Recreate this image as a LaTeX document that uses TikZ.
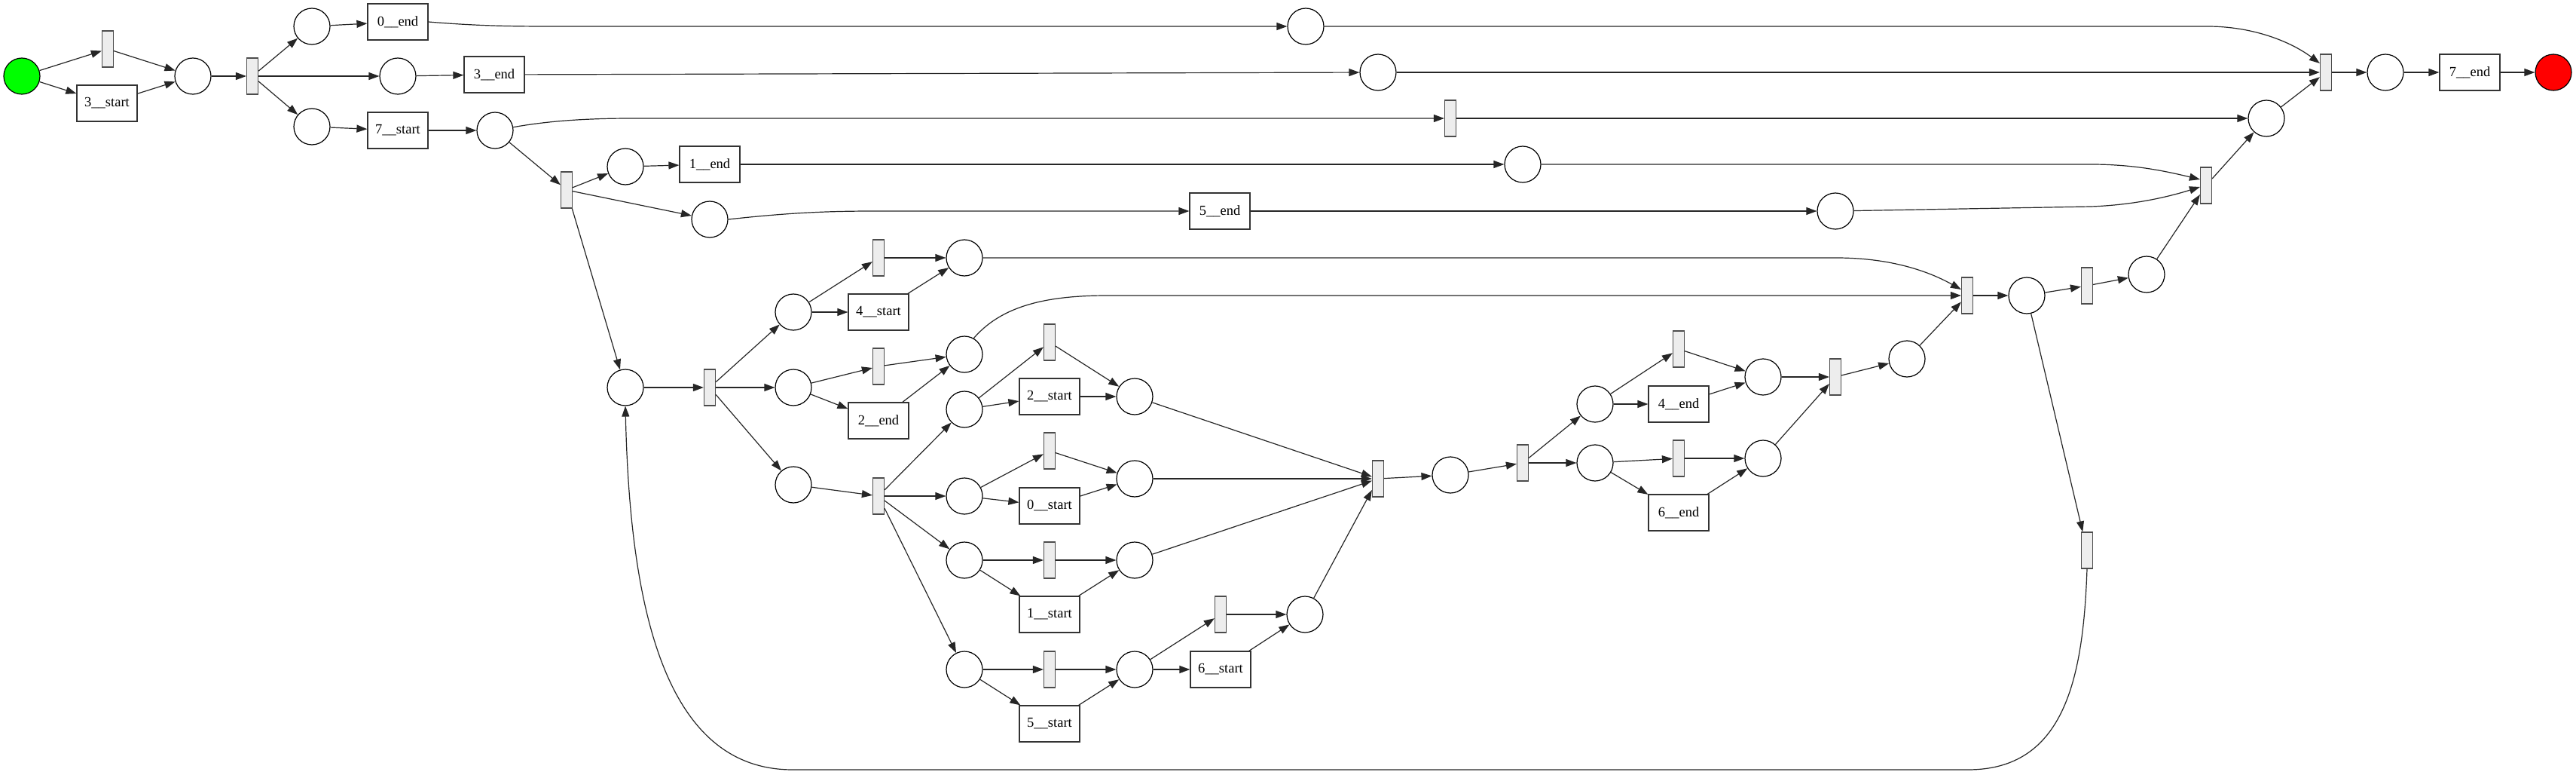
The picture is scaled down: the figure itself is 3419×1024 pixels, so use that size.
\documentclass[tikz,border=0pt]{standalone}
\usepackage{fontspec}
\setmainfont{Liberation Serif}
\usetikzlibrary{arrows.meta,calc}
\definecolor{pgreen}{RGB}{0,255,0}
\definecolor{pred}{RGB}{255,0,0}
\begin{document}
\begin{tikzpicture}[x=1pt,y=-1pt,
 place/.style={circle,draw=black,line width=1.2pt,minimum size=48pt,inner sep=0pt,fill=white},
 silent/.style={rectangle,draw=black!70,fill=black!7,line width=1.2pt,minimum width=15pt,minimum height=48pt,inner sep=0pt},
 task/.style={rectangle,draw=black!80,fill=white,line width=1.2pt,minimum width=80pt,minimum height=48pt,inner sep=0pt,font=\fontsize{18.5}{20}\selectfont},
 arc/.style={draw=black!85,line width=1.2pt,-{Triangle[length=14pt,width=10pt]}},
]
\useasboundingbox (0,0) rectangle (3419,1024);
% places
\node[place,fill=pgreen] (start) at (29,101) {};
\node[place] (p1) at (256,101) {};
\node[place] (p0) at (414,35) {};
\node[place] (p3) at (528,101) {};
\node[place] (p7) at (414,168) {};
\node[place] (p7b) at (657,173) {};
\node[place] (p1a) at (830,221) {};
\node[place] (p5a) at (942,291) {};
\node[place] (pL) at (830,514) {};
\node[place] (a4) at (1053,414) {};
\node[place] (a4b) at (1280,342) {};
\node[place] (a2) at (1053,514) {};
\node[place] (a2b) at (1280,470) {};
\node[place] (a0) at (1053,643) {};
\node[place] (b2) at (1280,543) {};
\node[place] (b2b) at (1506,526) {};
\node[place] (b0) at (1280,658) {};
\node[place] (b0b) at (1506,635) {};
\node[place] (b1) at (1280,743) {};
\node[place] (b1b) at (1506,743) {};
\node[place] (b5) at (1280,888) {};
\node[place] (b5b) at (1506,888) {};
\node[place] (b6b) at (1732,815) {};
\node[place] (c1) at (1925,630) {};
\node[place] (d4) at (2117,536) {};
\node[place] (d4b) at (2340,500) {};
\node[place] (d6) at (2117,614) {};
\node[place] (d6b) at (2340,608) {};
\node[place] (e2) at (2531,476) {};
\node[place] (e4) at (2690,392) {};
\node[place] (e7) at (2849,364) {};
\node[place] (h0) at (1733,35) {};
\node[place] (h3) at (1829,96) {};
\node[place] (h1) at (2021,218) {};
\node[place] (p5e) at (2436,280) {};
\node[place] (g1) at (3008,157) {};
\node[place] (f2) at (3166,96) {};
\node[place,fill=pred] (endp) at (3389,96) {};
% silent transitions
\node[silent] (t1) at (143,65) {};
\node[silent] (t2) at (335,101) {};
\node[silent] (t3) at (752,252) {};
\node[silent] (h7) at (1925,157) {};
\node[silent] (tL) at (942,514) {};
\node[silent] (a4t) at (1166,342) {};
\node[silent] (a2t) at (1166,486) {};
\node[silent] (tB) at (1166,658) {};
\node[silent] (b2t) at (1393,454) {};
\node[silent] (b0t) at (1393,598) {};
\node[silent] (b1t) at (1393,743) {};
\node[silent] (b5t) at (1393,888) {};
\node[silent] (b6t) at (1620,815) {};
\node[silent] (tJ) at (1829,635) {};
\node[silent] (c1t) at (2021,614) {};
\node[silent] (d4t) at (2228,463) {};
\node[silent] (d6t) at (2228,608) {};
\node[silent] (e1) at (2436,500) {};
\node[silent] (e3) at (2611,392) {};
\node[silent] (e5) at (2770,379) {};
\node[silent] (e6) at (2770,730) {};
\node[silent] (g2) at (2928,246) {};
\node[silent] (f1) at (3087,96) {};
% labelled transitions
\node[task] (s3) at (142,137) {3\_\_start};
\node[task] (en0) at (528,29) {0\_\_end};
\node[task] (en3) at (656,99) {3\_\_end};
\node[task] (s7) at (528,173) {7\_\_start};
\node[task] (en1) at (942,218) {1\_\_end};
\node[task] (en5) at (1619,280) {5\_\_end};
\node[task] (s4) at (1166,414) {4\_\_start};
\node[task] (en2) at (1166,558) {2\_\_end};
\node[task] (s2) at (1393,526) {2\_\_start};
\node[task] (s0) at (1393,671) {0\_\_start};
\node[task] (s1) at (1393,815) {1\_\_start};
\node[task] (s5) at (1393,960) {5\_\_start};
\node[task] (s6) at (1620,888) {6\_\_start};
\node[task] (en4) at (2228,536) {4\_\_end};
\node[task] (en6) at (2228,680) {6\_\_end};
\node[task] (en7) at (3278,96) {7\_\_end};
% arcs: top part
\draw[arc] (start) -- (t1);
\draw[arc] (start) -- (s3);
\draw[arc] (t1) -- (p1);
\draw[arc] (s3) -- (p1);
\draw[arc] (p1) -- (t2);
\draw[arc] (t2) -- (p0);
\draw[arc] (t2) -- (p3);
\draw[arc] (t2) -- (p7);
\draw[arc] (p0) -- (en0);
\draw[arc] (p3) -- (en3);
\draw[arc] (p7) -- (s7);
\draw[arc] (s7) -- (p7b);
\draw[arc] (p7b.10) .. controls (730,160) and (780,157) .. (840,157) -- (h7);
\draw[arc] (p7b) -- (t3);
\draw[arc] (t3) -- (p1a);
\draw[arc] (t3) -- (p5a);
\draw[arc] (t3) -- (pL);
\draw[arc] (p1a) -- (en1);
\draw[arc] (p5a.east) .. controls (1040,283) and (1090,280) .. (1160,280) -- (en5);
\draw[arc] (en0.east) .. controls (640,35) and (690,35) .. (740,35) -- (h0);
\draw[arc] (en3) -- (h3);
\draw[arc] (en1) -- (h1);
\draw[arc] (en5) -- (p5e);
\draw[arc] (h0) -- (2930,35) .. controls (2990,35) and (3040,55) .. ($(f1.west)+(0,-12)$);
\draw[arc] (h3) -- (f1);
\draw[arc] (h7) -- (g1);
\draw[arc] (h1) -- (2775,218) .. controls (2830,218) and (2870,226) .. ($(g2.west)+(0,-8)$);
\draw[arc] (p5e) -- (2775,274) .. controls (2830,272) and (2875,262) .. ($(g2.west)+(0,2)$);
\draw[arc] (e7) -- (g2);
\draw[arc] (g2) -- (g1);
\draw[arc] (g1) -- (f1);
\draw[arc] (f1) -- (f2);
\draw[arc] (f2) -- (en7);
\draw[arc] (en7) -- (endp);
% arcs: loop body
\draw[arc] (pL) -- (tL);
\draw[arc] (tL) -- (a4);
\draw[arc] (tL) -- (a2);
\draw[arc] (tL) -- (a0);
\draw[arc] (a4) -- (a4t);
\draw[arc] (a4) -- (s4);
\draw[arc] (a4t) -- (a4b);
\draw[arc] (s4) -- (a4b);
\draw[arc] (a2) -- (a2t);
\draw[arc] (a2) -- (en2);
\draw[arc] (a2t) -- (a2b);
\draw[arc] (en2) -- (a2b);
\draw[arc] (a0) -- (tB);
\draw[arc] (tB) -- (b2);
\draw[arc] (tB) -- (b0);
\draw[arc] (tB) -- (b1);
\draw[arc] (tB) -- (b5);
\draw[arc] (b2) -- (b2t);
\draw[arc] (b2) -- (s2);
\draw[arc] (b2t) -- (b2b);
\draw[arc] (s2) -- (b2b);
\draw[arc] (b0) -- (b0t);
\draw[arc] (b0) -- (s0);
\draw[arc] (b0t) -- (b0b);
\draw[arc] (s0) -- (b0b);
\draw[arc] (b1) -- (b1t);
\draw[arc] (b1) -- (s1);
\draw[arc] (b1t) -- (b1b);
\draw[arc] (s1) -- (b1b);
\draw[arc] (b5) -- (b5t);
\draw[arc] (b5) -- (s5);
\draw[arc] (b5t) -- (b5b);
\draw[arc] (s5) -- (b5b);
\draw[arc] (b5b) -- (b6t);
\draw[arc] (b5b) -- (s6);
\draw[arc] (b6t) -- (b6b);
\draw[arc] (s6) -- (b6b);
\draw[arc] (b2b) -- (tJ);
\draw[arc] (b0b) -- (tJ);
\draw[arc] (b1b) -- (tJ);
\draw[arc] (b6b) -- (tJ);
\draw[arc] (tJ) -- (c1);
\draw[arc] (c1) -- (c1t);
\draw[arc] (c1t) -- (d4);
\draw[arc] (c1t) -- (d6);
\draw[arc] (d4) -- (d4t);
\draw[arc] (d4) -- (en4);
\draw[arc] (d4t) -- (d4b);
\draw[arc] (en4) -- (d4b);
\draw[arc] (d6) -- (d6t);
\draw[arc] (d6) -- (en6);
\draw[arc] (d6t) -- (d6b);
\draw[arc] (en6) -- (d6b);
\draw[arc] (d4b) -- (e1);
\draw[arc] (d6b) -- (e1);
\draw[arc] (e1) -- (e2);
\draw[arc] (e2) -- (e3);
\draw[arc] (a4b) -- (2437,342) .. controls (2510,342) and (2560,360) .. ($(e3.west)+(0,-8)$);
\draw[arc] (a2b.60) .. controls (1330,405) and (1390,392) .. (1470,392) -- (e3.west);
\draw[arc] (e3) -- (e4);
\draw[arc] (e4) -- (e5);
\draw[arc] (e5) -- (e7);
\draw[arc] (e4) -- (e6);
\draw[arc] (e6.south) .. controls (2765,900) and (2740,1021) .. (2612,1021) -- (1052,1021) .. controls (880,1021) and (836,800) .. (pL.south);
\end{tikzpicture}
\end{document}
